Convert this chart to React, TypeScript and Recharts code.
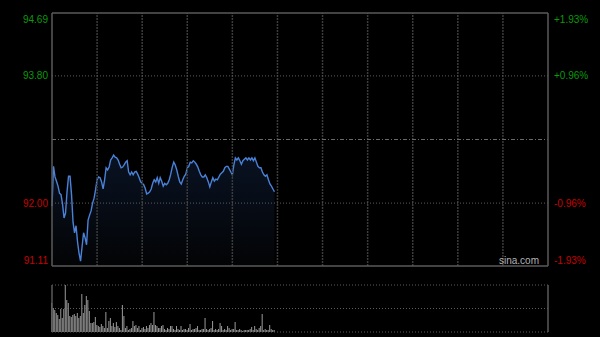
import React from "react";
import {
  ComposedChart,
  Area,
  Bar,
  XAxis,
  YAxis,
  ReferenceLine,
} from "recharts";

// prices per minute (index 0 = open)
const prices = [
  91.96, 92.52, 92.37, 92.31, 92.24, 92.14, 92.12, 91.99, 91.79, 91.86,
  92.16, 92.38, 92.38, 92.12, 91.73, 91.58, 91.68, 91.45, 91.29, 91.18,
  91.38, 91.58, 91.51, 91.41, 91.76, 91.83, 91.89, 92.0, 92.07, 92.19,
  92.33, 92.37, 92.36, 92.3, 92.2, 92.33, 92.5, 92.47, 92.51, 92.61,
  92.64, 92.68, 92.65, 92.64, 92.61, 92.55, 92.5, 92.51, 92.54, 92.58,
  92.6, 92.44, 92.4, 92.44, 92.4, 92.44, 92.45, 92.41, 92.36, 92.3,
  92.28, 92.26, 92.21, 92.13, 92.14, 92.16, 92.2, 92.28, 92.33, 92.3,
  92.36, 92.28, 92.36, 92.31, 92.24, 92.28, 92.26, 92.28, 92.33, 92.41,
  92.51, 92.58, 92.54, 92.47, 92.38, 92.3, 92.27, 92.33, 92.38, 92.41,
  92.5, 92.52, 92.58, 92.57, 92.6, 92.58, 92.55, 92.51, 92.45, 92.4,
  92.37, 92.37, 92.4, 92.36, 92.3, 92.23, 92.3, 92.36, 92.31, 92.34,
  92.33, 92.37, 92.41, 92.43, 92.45, 92.5, 92.52, 92.52, 92.48, 92.44,
  92.4, 92.54, 92.64, 92.61, 92.64, 92.6, 92.55, 92.6, 92.62, 92.64,
  92.61, 92.64, 92.61, 92.64, 92.6, 92.64, 92.58, 92.52, 92.5, 92.5,
  92.44, 92.4, 92.38, 92.4, 92.33, 92.27, 92.24, 92.2, 92.16,
];

// volume per minute (relative units)
const volumes = [
  29, 24, 22, 19, 17, 13, 23, 14, 23, 47, 32, 29, 16, 15, 17, 18, 16, 19, 14,
  16, 38, 19, 27, 36, 32, 21, 9, 9, 10, 15, 7, 6, 5, 8, 6, 4, 20, 4, 11, 14,
  6, 9, 5, 10, 6, 4, 2, 27, 16, 4, 6, 2, 3, 4, 11, 6, 7, 4, 6, 2, 4, 5, 3, 6,
  4, 7, 9, 7, 20, 7, 6, 4, 4, 6, 7, 3, 2, 4, 3, 6, 6, 3, 2, 6, 3, 2, 6, 2, 3,
  3, 2, 4, 8, 2, 3, 3, 4, 6, 2, 2, 3, 3, 14, 3, 2, 3, 4, 11, 2, 3, 2, 3, 9, 6,
  2, 3, 2, 6, 4, 2, 3, 3, 10, 2, 2, 3, 2, 1, 2, 2, 2, 2, 3, 5, 2, 6, 3, 2, 4,
  6, 18, 2, 3, 2, 2, 7, 3, 2, 2,
];

const prevClose = 92.9;
const priceTicks = [91.11, 92.0, 92.9, 93.8, 94.69];
const priceLabels = ["91.11", "92.00", "", "93.80", "94.69"];
const pctLabels = ["-1.93%", "-0.96%", "", "+0.96%", "+1.93%"];
const timeGrid = [30, 60, 90, 120, 150, 180, 210, 240, 270, 300];
const totalMinutes = 330;
const volMax = 47;

const data = prices.map((p, i) => ({ t: i, price: p, vol: volumes[i] }));

const FONT = "'Liberation Sans', Arial, sans-serif";
const GREEN = "#0a9a0a";
const RED = "#c80000";
const BORDER = "#5a5a5a";

function labelColor(v: number) {
  return v > prevClose ? GREEN : RED;
}

function tickDy(index: number) {
  if (index === 0) return -6;
  if (index === priceTicks.length - 1) return 6;
  return 0;
}

const LeftTick = (props: any) => {
  const { y, payload, index } = props;
  const label = priceLabels[index];
  if (!label) return <g />;
  return (
    <text
      x={48}
      y={y + tickDy(index)}
      dy={3.5}
      textAnchor="end"
      fill={labelColor(payload.value)}
      fontSize={10}
      fontFamily={FONT}
    >
      {label}
    </text>
  );
};

const RightTick = (props: any) => {
  const { y, payload, index } = props;
  const label = pctLabels[index];
  if (!label) return <g />;
  return (
    <text
      x={554}
      y={y + tickDy(index)}
      dy={3.5}
      textAnchor="start"
      fill={labelColor(payload.value)}
      fontSize={10}
      fontFamily={FONT}
    >
      {label}
    </text>
  );
};

export default function App() {
  return (
    <div
      style={{
        position: "fixed",
        left: 0,
        top: 0,
        width: 600,
        height: 337,
        background: "#000",
        overflow: "hidden",
      }}
    >
      <div style={{ position: "absolute", left: 0, top: 0 }}>
        <ComposedChart
          width={600}
          height={270}
          data={data}
          margin={{ top: 13, right: 0, bottom: 4, left: 0 }}
        >
          <defs>
            <linearGradient id="priceFill" x1="0" y1="0" x2="0" y2="1">
              <stop offset="0%" stopColor="#10203c" stopOpacity={0.95} />
              <stop offset="100%" stopColor="#050608" stopOpacity={1} />
            </linearGradient>
          </defs>
          <XAxis
            type="number"
            dataKey="t"
            domain={[0, totalMinutes]}
            hide
          />
          <YAxis
            yAxisId="left"
            orientation="left"
            width={52}
            domain={[priceTicks[0], priceTicks[4]]}
            ticks={priceTicks}
            axisLine={false}
            tickLine={false}
            tick={<LeftTick />}
            interval={0}
            allowDataOverflow
          />
          <YAxis
            yAxisId="right"
            orientation="right"
            width={52}
            domain={[priceTicks[0], priceTicks[4]]}
            ticks={priceTicks}
            axisLine={false}
            tickLine={false}
            tick={<RightTick />}
            interval={0}
            allowDataOverflow
          />
          {timeGrid.map((t) => (
            <ReferenceLine
              key={t}
              yAxisId="left"
              x={t}
              stroke="#3c3c3c"
              strokeWidth={1.5}
              strokeDasharray="2 1"
            />
          ))}
          <ReferenceLine
            yAxisId="left"
            y={priceTicks[1]}
            stroke="#5c5c5c"
            strokeDasharray="1 2"
          />
          <ReferenceLine
            yAxisId="left"
            y={priceTicks[3]}
            stroke="#5c5c5c"
            strokeDasharray="1 2"
          />
          <ReferenceLine
            yAxisId="left"
            y={prevClose}
            stroke="#6a6a6a"
            strokeDasharray="4 2 1 2"
          />
          <Area
            yAxisId="left"
            type="linear"
            dataKey="price"
            stroke="#4a82d8"
            strokeWidth={1.4}
            fill="url(#priceFill)"
            isAnimationActive={false}
            dot={false}
            activeDot={false}
          />
          <ReferenceLine yAxisId="left" y={priceTicks[4]} stroke={BORDER} strokeWidth={1.5} />
          <ReferenceLine yAxisId="left" y={priceTicks[0]} stroke={BORDER} strokeWidth={1.5} />
          <ReferenceLine yAxisId="left" x={0} stroke={BORDER} strokeWidth={1.5} />
          <ReferenceLine yAxisId="left" x={totalMinutes} stroke={BORDER} strokeWidth={1.5} />
        </ComposedChart>
        <div
          style={{
            position: "absolute",
            left: 499,
            top: 255,
            color: "#b4b4b4",
            fontSize: 10,
            fontFamily: FONT,
            lineHeight: "12px",
          }}
        >
          sina.com
        </div>
      </div>
      <div style={{ position: "absolute", left: 0, top: 270 }}>
        <ComposedChart
          width={600}
          height={67}
          data={data}
          margin={{ top: 15, right: 52, bottom: 5, left: 52 }}
        >
          <XAxis
            type="number"
            dataKey="t"
            domain={[0, totalMinutes]}
            hide
          />
          <YAxis domain={[0, volMax]} hide allowDataOverflow />
          <ReferenceLine y={volMax} stroke="#5c5c5c" strokeDasharray="1 2" />
          <ReferenceLine y={volMax / 2} stroke="#5c5c5c" strokeDasharray="1 2" />
          <Bar
            dataKey="vol"
            fill="#9a9a9a"
            barSize={1}
            isAnimationActive={false}
          />
          <ReferenceLine y={0} stroke="#5c5c5c" strokeDasharray="1 2" />
          <ReferenceLine x={0} stroke={BORDER} strokeWidth={1.5} />
          <ReferenceLine x={totalMinutes} stroke={BORDER} strokeWidth={1.5} />
        </ComposedChart>
      </div>
    </div>
  );
}
